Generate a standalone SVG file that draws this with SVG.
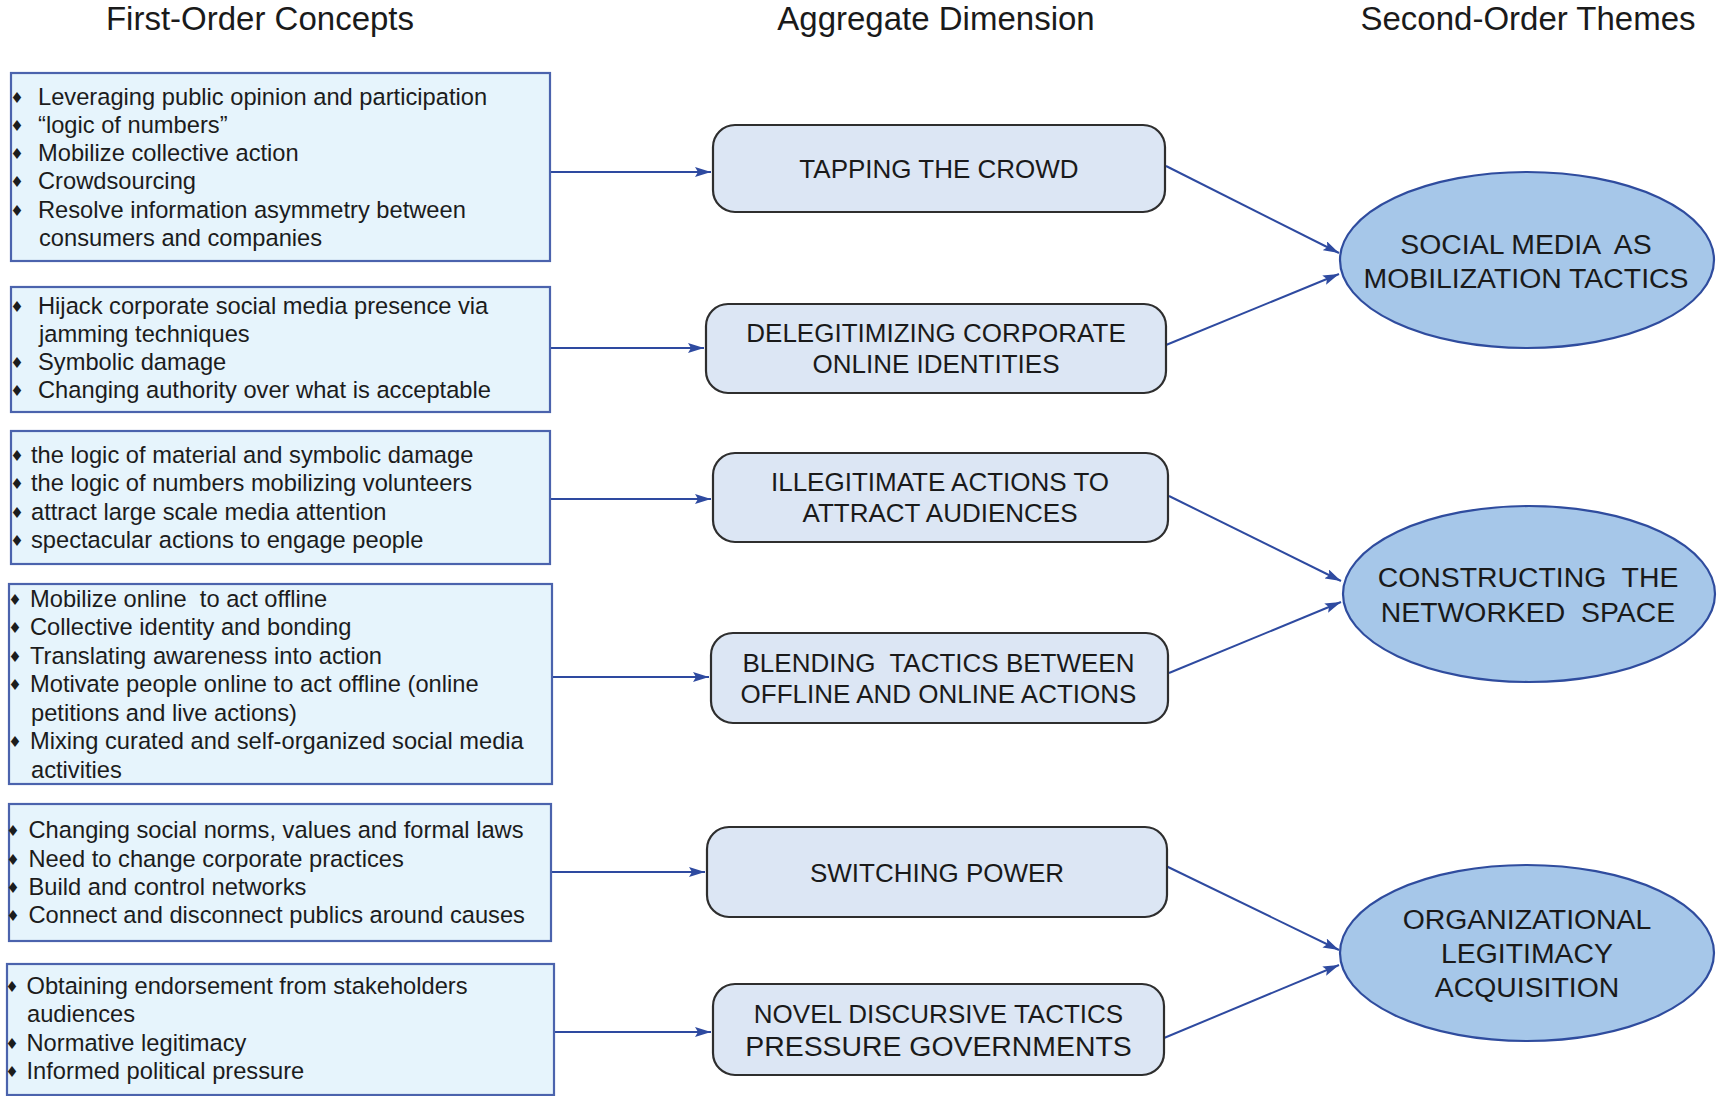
<svg xmlns="http://www.w3.org/2000/svg" width="1717" height="1096" viewBox="0 0 1717 1096">
  <style>
    .hdr { font-family: "Liberation Sans", Arial, sans-serif; font-size: 33px; fill: #1a1a1a; text-anchor: middle; }
    .concept rect { fill: #e6f4fc; stroke: #4b63ad; stroke-width: 2.2; }
    .concept text { font-family: "Liberation Sans", Arial, sans-serif; font-size: 23.7px; fill: #1c1c1c; }
    .concept text.b { font-family: "DejaVu Sans", sans-serif; font-size: 15px; text-anchor: middle; }
    .dim rect { fill: #dce6f4; stroke: #2e2e2e; stroke-width: 2.2; }
    .dim text { font-family: "Liberation Sans", Arial, sans-serif; font-size: 26px; fill: #1a1a1a; text-anchor: middle; white-space: pre; }
    .theme ellipse { fill: #a6c7e9; stroke: #2f4c9e; stroke-width: 2.2; }
    .theme text { font-family: "Liberation Sans", Arial, sans-serif; font-size: 28.4px; fill: #1a1a1a; text-anchor: middle; white-space: pre; }
    .edges line { stroke: #2e4aa0; stroke-width: 2; marker-end: url(#arrow); }
  </style>
  <defs>
    <marker id="arrow" viewBox="0 0 16 10" refX="16" refY="5" markerWidth="16" markerHeight="10" markerUnits="userSpaceOnUse" orient="auto">
      <path d="M0,0 L16,5 L0,10 L3,5 Z" fill="#2e4aa0"/>
    </marker>
  </defs>

  <rect width="1717" height="1096" fill="#ffffff"/>

  <!-- column headers -->
  <g id="headers">
    <text class="hdr" x="260" y="30">First-Order Concepts</text>
    <text class="hdr" x="936" y="30">Aggregate Dimension</text>
    <text class="hdr" x="1528" y="30">Second-Order Themes</text>
  </g>

  <!-- connectors -->
  <g id="connectors" class="edges">
    <line x1="550" y1="172" x2="711" y2="172"/>
    <line x1="550" y1="348" x2="704" y2="348"/>
    <line x1="550" y1="499" x2="711" y2="499"/>
    <line x1="552" y1="677" x2="709" y2="677"/>
    <line x1="551" y1="872" x2="705" y2="872"/>
    <line x1="554" y1="1032" x2="711" y2="1032"/>
    <line x1="1166" y1="166" x2="1339" y2="253"/>
    <line x1="1166" y1="345" x2="1339" y2="274"/>
    <line x1="1169" y1="496" x2="1341" y2="581"/>
    <line x1="1169" y1="673" x2="1341" y2="602"/>
    <line x1="1166" y1="866" x2="1339" y2="950"/>
    <line x1="1164" y1="1038" x2="1339" y2="965"/>
  </g>

  <!-- first-order concepts -->
  <g id="concepts-crowd" class="concept">
    <rect x="11" y="73" width="539" height="188"/>
    <text class="b" x="17" y="103">♦</text><text x="38" y="105">Leveraging public opinion and participation</text>
    <text class="b" x="17" y="131">♦</text><text x="38" y="133">“logic of numbers”</text>
    <text class="b" x="17" y="159">♦</text><text x="38" y="161">Mobilize collective action</text>
    <text class="b" x="17" y="187">♦</text><text x="38" y="189">Crowdsourcing</text>
    <text class="b" x="17" y="216">♦</text><text x="38" y="218">Resolve information asymmetry between</text>
    <text x="39" y="246">consumers and companies</text>
  </g>

  <g id="concepts-identities" class="concept">
    <rect x="11" y="287" width="539" height="125"/>
    <text class="b" x="17" y="312">♦</text><text x="38" y="314">Hijack corporate social media presence via</text>
    <text x="39" y="342">jamming techniques</text>
    <text class="b" x="17" y="368">♦</text><text x="38" y="370">Symbolic damage</text>
    <text class="b" x="17" y="396">♦</text><text x="38" y="398">Changing authority over what is acceptable</text>
  </g>

  <g id="concepts-audiences" class="concept">
    <rect x="11" y="431" width="539" height="133"/>
    <text class="b" x="17" y="461">♦</text><text x="31" y="463">the logic of material and symbolic damage</text>
    <text class="b" x="17" y="489">♦</text><text x="31" y="491">the logic of numbers mobilizing volunteers</text>
    <text class="b" x="17" y="518">♦</text><text x="31" y="520">attract large scale media attention</text>
    <text class="b" x="17" y="546">♦</text><text x="31" y="548">spectacular actions to engage people</text>
  </g>

  <g id="concepts-blending" class="concept">
    <rect x="9" y="584" width="543" height="200"/>
    <text class="b" x="15" y="604.5">♦</text><text x="30" y="606.5" style="white-space:pre">Mobilize online  to act offline</text>
    <text class="b" x="15" y="633">♦</text><text x="30" y="635">Collective identity and bonding</text>
    <text class="b" x="15" y="661.5">♦</text><text x="30" y="663.5">Translating awareness into action</text>
    <text class="b" x="15" y="690">♦</text><text x="30" y="692">Motivate people online to act offline (online</text>
    <text x="31" y="720.5">petitions and live actions)</text>
    <text class="b" x="15" y="747">♦</text><text x="30" y="749">Mixing curated and self-organized social media</text>
    <text x="31" y="777.5">activities</text>
  </g>

  <g id="concepts-power" class="concept">
    <rect x="9" y="804" width="542" height="137"/>
    <text class="b" x="13" y="836">♦</text><text x="28.5" y="838">Changing social norms, values and formal laws</text>
    <text class="b" x="13" y="864.5">♦</text><text x="28.5" y="866.5">Need to change corporate practices</text>
    <text class="b" x="13" y="893">♦</text><text x="28.5" y="895">Build and control networks</text>
    <text class="b" x="13" y="921">♦</text><text x="28.5" y="923">Connect and disconnect publics around causes</text>
  </g>

  <g id="concepts-pressure" class="concept">
    <rect x="7" y="964" width="547" height="131"/>
    <text class="b" x="12" y="992">♦</text><text x="26.5" y="994">Obtaining endorsement from stakeholders</text>
    <text x="27" y="1022">audiences</text>
    <text class="b" x="12" y="1049">♦</text><text x="26.5" y="1051">Normative legitimacy</text>
    <text class="b" x="12" y="1077">♦</text><text x="26.5" y="1079">Informed political pressure</text>
  </g>

  <!-- aggregate dimensions -->
  <g id="dim-tapping" class="dim">
    <rect x="713" y="125" width="452" height="87" rx="22"/>
    <text x="939" y="178">TAPPING THE CROWD</text>
  </g>
  <g id="dim-delegitimizing" class="dim">
    <rect x="706" y="304" width="460" height="89" rx="22"/>
    <text x="936" y="342">DELEGITIMIZING CORPORATE</text>
    <text x="936" y="373">ONLINE IDENTITIES</text>
  </g>
  <g id="dim-illegitimate" class="dim">
    <rect x="713" y="453" width="455" height="89" rx="22"/>
    <text x="940" y="491">ILLEGITIMATE ACTIONS TO</text>
    <text x="940" y="522">ATTRACT AUDIENCES</text>
  </g>
  <g id="dim-blending" class="dim">
    <rect x="711" y="633" width="457" height="90" rx="22"/>
    <text x="938.5" y="671.5">BLENDING  TACTICS BETWEEN</text>
    <text x="938.5" y="702.5">OFFLINE AND ONLINE ACTIONS</text>
  </g>
  <g id="dim-switching" class="dim">
    <rect x="707" y="827" width="460" height="90" rx="22"/>
    <text x="937" y="881.5">SWITCHING POWER</text>
  </g>
  <g id="dim-novel" class="dim">
    <rect x="713" y="984" width="451" height="91" rx="22"/>
    <text x="938.5" y="1022.5">NOVEL DISCURSIVE TACTICS</text>
    <text x="938.5" y="1056" style="font-size:28.4px">PRESSURE GOVERNMENTS</text>
  </g>

  <!-- second-order themes -->
  <g id="theme-mobilization" class="theme">
    <ellipse cx="1527" cy="260" rx="187" ry="88"/>
    <text x="1526" y="254">SOCIAL MEDIA  AS</text>
    <text x="1526" y="288">MOBILIZATION TACTICS</text>
  </g>
  <g id="theme-networked" class="theme">
    <ellipse cx="1529" cy="594" rx="186" ry="88"/>
    <text x="1528" y="587">CONSTRUCTING  THE</text>
    <text x="1528" y="622">NETWORKED  SPACE</text>
  </g>
  <g id="theme-legitimacy" class="theme">
    <ellipse cx="1527" cy="953" rx="187" ry="88"/>
    <text x="1527" y="929">ORGANIZATIONAL</text>
    <text x="1527" y="963">LEGITIMACY</text>
    <text x="1527" y="997">ACQUISITION</text>
  </g>
</svg>
